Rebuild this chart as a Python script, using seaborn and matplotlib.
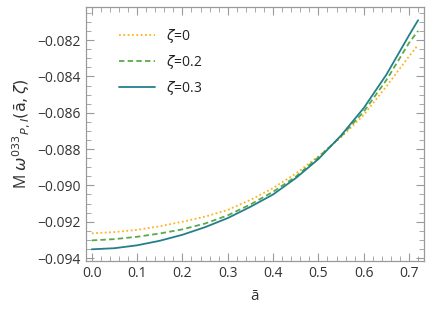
import numpy as np
import pandas as pd
import matplotlib
matplotlib.use("Agg")
import matplotlib.pyplot as plt
import seaborn as sns
from matplotlib.ticker import MultipleLocator, FuncFormatter

# valores
a_bar = [0.0, 0.05, 0.1, 0.15, 0.2, 0.25, 0.3, 0.35, 0.4, 0.45,
         0.5, 0.55, 0.6, 0.65, 0.7, 0.72]
omega_z0 = [-0.09264, -0.09257, -0.09245, -0.09225, -0.09200, -0.09172, -0.09135, -0.09080,
            -0.09015, -0.08935, -0.08840, -0.08735, -0.08612, -0.08455, -0.08289, -0.08226]
omega_z02 = [-0.09303, -0.09296, -0.09283, -0.09265, -0.09242, -0.09210, -0.09165, -0.09105,
             -0.09035, -0.08952, -0.08845, -0.08730, -0.08594, -0.08420, -0.08215, -0.08149]
omega_z03 = [-0.09352, -0.09346, -0.09330, -0.09305, -0.09272, -0.09230, -0.09180, -0.09118,
             -0.09050, -0.08960, -0.08855, -0.08725, -0.08574, -0.08390, -0.08173, -0.08090]
zeta_labels = [r"$\zeta$=0", r"$\zeta$=0.2", r"$\zeta$=0.3"]

colors = ["#FFB31A", "#5AAA46", "#23808A"]
styles = [(0, (1, 1.4)), (0, (3, 1.8)), "-"]

sns.set_style("ticks")
plt.rcParams["font.family"] = ["Open Sans", "DejaVu Sans"]
plt.rcParams["mathtext.fontset"] = "dejavusans"

fig = plt.figure(figsize=(4.36, 3.09), dpi=100)
ax = fig.add_axes([0.197, 0.155, 0.7755, 0.822])

series = [omega_z0, omega_z02, omega_z03]
for vals, lab, c, ls in zip(series, zeta_labels, colors, styles):
    df = pd.DataFrame({"a": a_bar, "w": vals})
    sns.lineplot(data=df, x="a", y="w", ax=ax, color=c, linestyle=ls,
                 linewidth=1.3, label=lab)

ax.set_xlim(-0.013, 0.733)
ax.set_ylim(-0.09417, -0.08018)
ax.xaxis.set_major_locator(MultipleLocator(0.1))
ax.xaxis.set_minor_locator(MultipleLocator(0.02))
ax.yaxis.set_major_locator(MultipleLocator(0.002))
ax.yaxis.set_minor_locator(MultipleLocator(0.0005))
ax.xaxis.set_major_formatter(FuncFormatter(lambda v, p: f"{v:.1f}"))
ax.yaxis.set_major_formatter(FuncFormatter(
    lambda v, p: f"{v:.3f}".replace("-", "\u2212")))

frame_col = "#9a9a9a"
for sp in ax.spines.values():
    sp.set_color(frame_col)
    sp.set_linewidth(0.9)
ax.tick_params(which="both", direction="in", top=True, right=True,
               color=frame_col, labelcolor="#333333", labelsize=10)
ax.tick_params(which="major", length=6, width=0.8)
ax.tick_params(which="minor", length=3.5, width=0.6)

ax.set_xlabel("ā", fontsize=11, color="#333333", labelpad=6)
ax.set_ylabel(r"M $\omega^{033}{}_{P,I}(\mathrm{\bar{a}},\zeta)$", fontsize=11.5,
              color="#333333", labelpad=4)

leg = ax.legend(loc="upper left", bbox_to_anchor=(0.06, 0.97), frameon=False,
                handlelength=2.6, fontsize=10, labelspacing=0.55)
for t in leg.get_texts():
    t.set_color("#222222")

fig.savefig("out.png", dpi=100)
